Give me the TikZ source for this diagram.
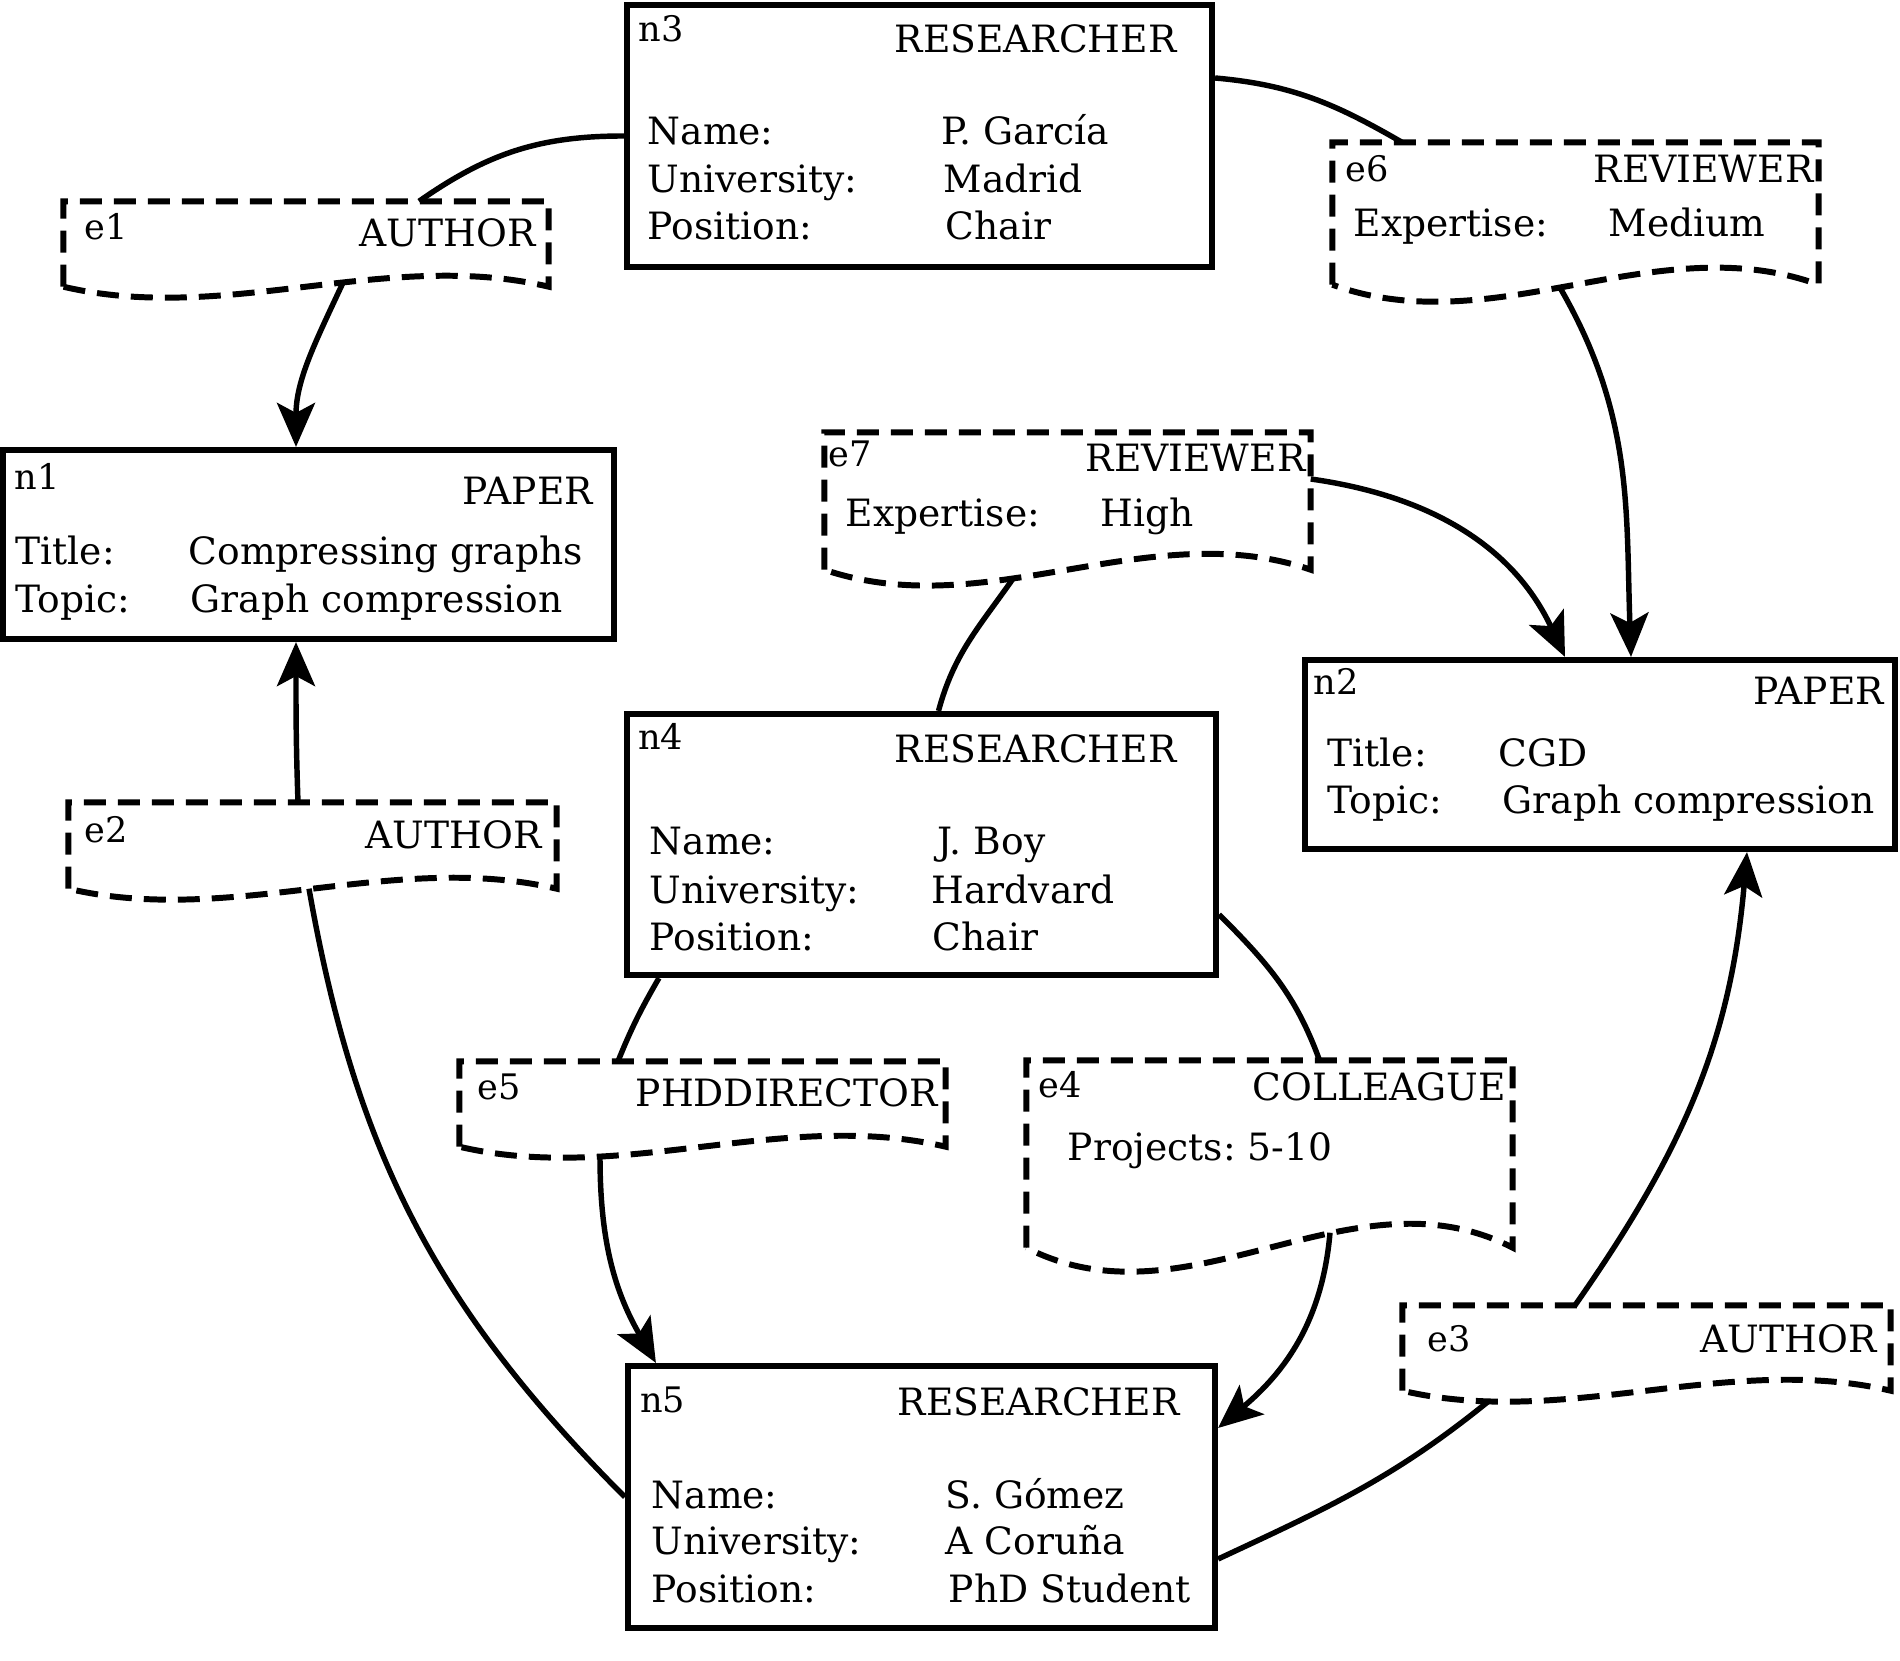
\documentclass[tikz,border=0pt]{standalone}
\usepackage{fontspec}
\setmainfont{DejaVu Serif}
\usetikzlibrary{arrows.meta, calc}
\frenchspacing

% dashed relationship box with a wavy bottom
\newcommand{\docshape}[2]{%
  \draw[edgeline] (#1.south west) -- (#1.north west) -- (#1.north east) -- (#1.south east)
    .. controls ($(#1.south east)!0.3333!(#1.south west)+(0,#2)$) and ($(#1.south east)!0.6667!(#1.south west)-(0,#2)$) .. (#1.south west);}

\begin{document}
\begin{tikzpicture}[
	entity/.style={shape=rectangle, draw, line width=1.75pt, inner sep=0pt},
	relbox/.style={shape=rectangle, inner sep=0pt},
	edgeline/.style={line width=1.7pt, dash pattern=on 0.22cm off 0.12cm},
	link/.style={line width=1.55pt},
	arrowlink/.style={link, -{Stealth[length=0.44cm, width=0.38cm, inset=0.1cm]}},
	lbl/.style={anchor=base west, inner sep=0pt, font=\fontsize{10.7}{12}\selectfont},
	idlbl/.style={lbl, font=\fontsize{10}{11}\selectfont}]
	\useasboundingbox (0,0) rectangle (19,-16.61);
	% Entity boxes:
	\node[entity, minimum width=5.85cm, minimum height=2.62cm] (n3) at (9.195,-1.36) {};
	\node[entity, minimum width=5.89cm, minimum height=2.61cm] (n4) at (9.215,-8.445) {};
	\node[entity, minimum width=5.87cm, minimum height=2.62cm] (n5) at (9.215,-14.97) {};
	\node[entity, minimum width=6.11cm, minimum height=1.89cm] (n1) at (3.085,-5.445) {};
	\node[entity, minimum width=5.90cm, minimum height=1.89cm] (n2) at (16.00,-7.545) {};
	% Relationship boxes:
	\node[relbox, minimum width=4.84cm, minimum height=0.84cm] (e1) at (3.06,-2.44) {};
	\node[relbox, minimum width=4.87cm, minimum height=0.85cm] (e2) at (3.125,-8.455) {};
	\node[relbox, minimum width=4.87cm, minimum height=0.84cm] (e3) at (16.465,-13.48) {};
	\node[relbox, minimum width=4.85cm, minimum height=1.86cm] (e4) at (12.695,-11.54) {};
	\node[relbox, minimum width=4.85cm, minimum height=0.84cm] (e5) at (7.025,-11.04) {};
	\node[relbox, minimum width=4.85cm, minimum height=1.41cm] (e6) at (15.755,-2.135) {};
	\node[relbox, minimum width=4.85cm, minimum height=1.36cm] (e7) at (10.675,-5.01) {};
	\docshape{e1}{0.38}
	\docshape{e2}{0.38}
	\docshape{e3}{0.38}
	\docshape{e4}{0.83}
	\docshape{e5}{0.38}
	\docshape{e6}{0.59}
	\docshape{e7}{0.55}
	% Texts of n3, n4, n5:
	\node[idlbl] (n3-id) at (6.38,-0.42) {n3};
	\node[lbl] (n3-type) at (8.94,-0.53) {RESEARCHER};
	\node[lbl] (n3-k1) at (6.47,-1.45) {Name:};
	\node[lbl] (n3-v1) at (9.41,-1.45) {P. García};
	\node[lbl] (n3-k2) at (6.47,-1.93) {University:};
	\node[lbl] (n3-v2) at (9.43,-1.93) {Madrid};
	\node[lbl] (n3-k3) at (6.47,-2.40) {Position:};
	\node[lbl] (n3-v3) at (9.45,-2.40) {Chair};
	\node[idlbl] (n4-id) at (6.375,-7.50) {n4};
	\node[lbl] (n4-type) at (8.94,-7.63) {RESEARCHER};
	\node[lbl] (n4-k1) at (6.49,-8.55) {Name:};
	\node[lbl] (n4-v1) at (9.37,-8.55) {J. Boy};
	\node[lbl] (n4-k2) at (6.49,-9.03) {University:};
	\node[lbl] (n4-v2) at (9.31,-9.03) {Hardvard};
	\node[lbl] (n4-k3) at (6.49,-9.50) {Position:};
	\node[lbl] (n4-v3) at (9.32,-9.50) {Chair};
	\node[idlbl] (n5-id) at (6.395,-14.12) {n5};
	\node[lbl] (n5-type) at (8.97,-14.15) {RESEARCHER};
	\node[lbl] (n5-k1) at (6.51,-15.08) {Name:};
	\node[lbl] (n5-v1) at (9.45,-15.08) {S. Gómez};
	\node[lbl] (n5-k2) at (6.51,-15.54) {University:};
	\node[lbl] (n5-v2) at (9.45,-15.54) {A Coruña};
	\node[lbl] (n5-k3) at (6.51,-16.02) {Position:};
	\node[lbl] (n5-v3) at (9.48,-16.02) {PhD Student};
	% Texts of n1, n2:
	\node[idlbl] (n1-id) at (0.14,-4.90) {n1};
	\node[lbl] (n1-type) at (4.62,-5.05) {PAPER};
	\node[lbl] (n1-k1) at (0.15,-5.65) {Title:};
	\node[lbl] (n1-v1) at (1.88,-5.65) {Compressing graphs};
	\node[lbl] (n1-k2) at (0.15,-6.13) {Topic:};
	\node[lbl] (n1-v2) at (1.90,-6.13) {Graph compression};
	\node[idlbl] (n2-id) at (13.13,-6.95) {n2};
	\node[lbl] (n2-type) at (17.53,-7.05) {PAPER};
	\node[lbl] (n2-k1) at (13.27,-7.67) {Title:};
	\node[lbl] (n2-v1) at (14.98,-7.67) {CGD};
	\node[lbl] (n2-k2) at (13.27,-8.13) {Topic:};
	\node[lbl] (n2-v2) at (15.02,-8.13) {Graph compression};
	% Texts of the relationships:
	\node[idlbl] (e1-id) at (0.84,-2.40) {e1};
	\node[lbl] (e1-type) at (3.59,-2.47) {AUTHOR};
	\node[idlbl] (e2-id) at (0.84,-8.42) {e2};
	\node[lbl] (e2-type) at (3.65,-8.48) {AUTHOR};
	\node[idlbl] (e3-id) at (14.27,-13.51) {e3};
	\node[lbl] (e3-type) at (17.00,-13.52) {AUTHOR};
	\node[idlbl] (e4-id) at (10.38,-10.97) {e4};
	\node[lbl] (e4-type) at (12.52,-11.00) {COLLEAGUE};
	\node[lbl] (e4-k1) at (10.67,-11.60) {Projects: 5-10};
	\node[idlbl] (e5-id) at (4.77,-10.99) {e5};
	\node[lbl] (e5-type) at (6.35,-11.06) {PHDDIRECTOR};
	\node[idlbl] (e6-id) at (13.45,-1.82) {e6};
	\node[lbl] (e6-type) at (15.93,-1.83) {REVIEWER};
	\node[lbl] (e6-k1) at (13.53,-2.37) {Expertise:};
	\node[lbl] (e6-v1) at (16.08,-2.37) {Medium};
	\node[idlbl] (e7-id) at (8.28,-4.67) {e7};
	\node[lbl] (e7-type) at (10.85,-4.72) {REVIEWER};
	\node[lbl] (e7-k1) at (8.45,-5.27) {Expertise:};
	\node[lbl] (e7-v1) at (11.00,-5.27) {High};
	% Connectors:
	\draw[link] (n3.west) to[out=180, in=35] ([xshift=1.13cm]e1.north);
	\draw[arrowlink] ([shift={(0.37,0.04)}]e1.south) to[out=-115, in=90] ([xshift=-0.125cm]n1.north);
	\draw[arrowlink] ([xshift=-0.145cm]e2.north) to[out=92, in=-90] ([xshift=-0.125cm]n1.south);
	\draw[link] ([xshift=-0.035cm]e2.south) to[out=-80, in=135] (n5.west);
	\draw[link] ([yshift=0.58cm]n3.east) to[out=-5, in=150] ([xshift=-1.735cm]e6.north);
	\draw[arrowlink] ([shift={(-0.155,-0.03)}]e6.south) to[out=-60, in=92] ([xshift=0.31cm]n2.north);
	\draw[arrowlink] ([yshift=0.22cm]e7.east) to[out=-8, in=115] ([xshift=-0.35cm]n2.north);
	\draw[link] ([xshift=0.17cm]n4.north) to[out=75, in=-125] ([shift={(-0.545,-0.09)}]e7.south);
	\draw[link] ([xshift=0.35cm]n4.south west) to[out=-120, in=68] ([xshift=-0.845cm]e5.north);
	\draw[arrowlink] ([shift={(-1.025,-0.10)}]e5.south) to[out=-90, in=120] ([xshift=0.31cm]n5.north west);
	\draw[link] ([yshift=-0.7cm]n4.east) to[out=-45, in=110] ([xshift=0.5cm]e4.north);
	\draw[arrowlink] ([shift={(0.605,0.15)}]e4.south) to[out=-95, in=40] ([yshift=0.69cm]n5.east);
	\draw[arrowlink] ([xshift=-0.715cm]e3.north) to[out=55, in=-95] ([xshift=1.47cm]n2.south);
	\draw[link] ([yshift=-0.62cm]n5.east) to[out=25, in=-141] ([shift={(-1.585,-0.11)}]e3.south);
\end{tikzpicture}
\end{document}
